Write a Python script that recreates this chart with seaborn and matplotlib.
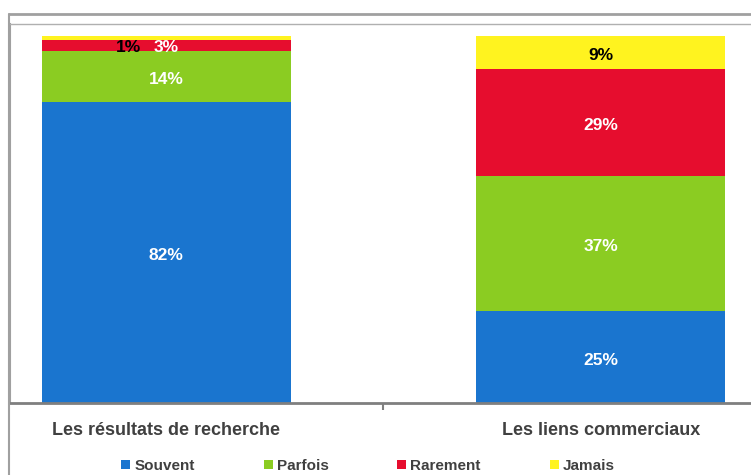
import numpy as np
import pandas as pd
import matplotlib.pyplot as plt
import seaborn as sns
from matplotlib.patches import Patch
from matplotlib.lines import Line2D

# data
categories = ["Les résultats de recherche", "Les liens commerciaux"]
series = ["Souvent", "Parfois", "Rarement", "Jamais"]
souvent = [82, 25]
parfois = [14, 37]
rarement = [3, 29]
jamais = [1, 9]
colors = ["#1a75cf", "#8bcc22", "#e60d2e", "#fff31f"]
label_colors = ["white", "white", "white", "black"]

sns.set_theme(style="white")
plt.rcParams['font.family'] = ['Liberation Sans', 'DejaVu Sans']

fig = plt.figure(figsize=(7.51, 4.75), dpi=100)
# axes: left 10px, bottom at 403px, top at 24px, right runs off the picture
ax = fig.add_axes([10/751, 1 - 403/475, (757 - 10)/751, (403 - 24)/475])

vals = np.array([souvent, parfois, rarement, jamais])
cum = vals.cumsum(axis=0)
df = pd.DataFrame({"cat": categories})

# draw from top of the stack down so each lower segment covers the upper
for i in range(3, -1, -1):
    df["v"] = cum[i]
    sns.barplot(data=df, x="cat", y="v", color=colors[i], width=0.574,
                saturation=1, ax=ax, linewidth=0)

# segment labels
for j in range(2):
    for i in range(4):
        y = cum[i][j] - vals[i][j] / 2 - 0.8
        x = j
        if j == 0 and i == 3:
            x, y = j - 0.088, 97
        if j == 0 and i == 2:
            y = 97
        ax.text(x, y, f"{vals[i][j]}%", ha="center", va="center",
                fontsize=12.5, fontweight="bold", color=label_colors[i])

ax.set_xlim(-0.36, 1.36)
ax.set_ylim(0, 103.3)
ax.set_yticks([])
ax.set_xlabel("")
ax.set_ylabel("")
ax.set_xticks([0, 1])
ax.set_xticklabels(categories, fontsize=13, fontweight="bold", color="#404040")
ax.tick_params(axis="x", which="major", length=0, pad=14)
ax.set_xticks([0.5], minor=True)
ax.tick_params(axis="x", which="minor", bottom=True, length=5, width=1.5,
               color="#808080", direction="out")

ax.spines["right"].set_visible(False)
ax.spines["bottom"].set_color("#7f7f7f")
ax.spines["bottom"].set_linewidth(2)
ax.spines["top"].set_color("#b0b0b0")
ax.spines["top"].set_linewidth(1)
ax.spines["left"].set_color("#a0a0a0")
ax.spines["left"].set_linewidth(1.5)

# outer chart frame
fig.add_artist(Line2D([9/751, 1], [1 - 13.5/475] * 2, color="#a0a0a0", lw=2))
fig.add_artist(Line2D([8.5/751] * 2, [0, 1 - 13.5/475], color="#a0a0a0", lw=1.5))

handles = [Patch(facecolor=c, edgecolor="none") for c in colors]
fig.legend(handles, series, loc="center", bbox_to_anchor=(368/751, 1 - 466/475),
           ncol=4, frameon=False, handlelength=0.6, handleheight=0.6,
           handletextpad=0.26, columnspacing=4.5, borderpad=0,
           prop={"size": 11, "weight": "bold"}, labelcolor="#404040")

fig.savefig("out.png", dpi=100)
